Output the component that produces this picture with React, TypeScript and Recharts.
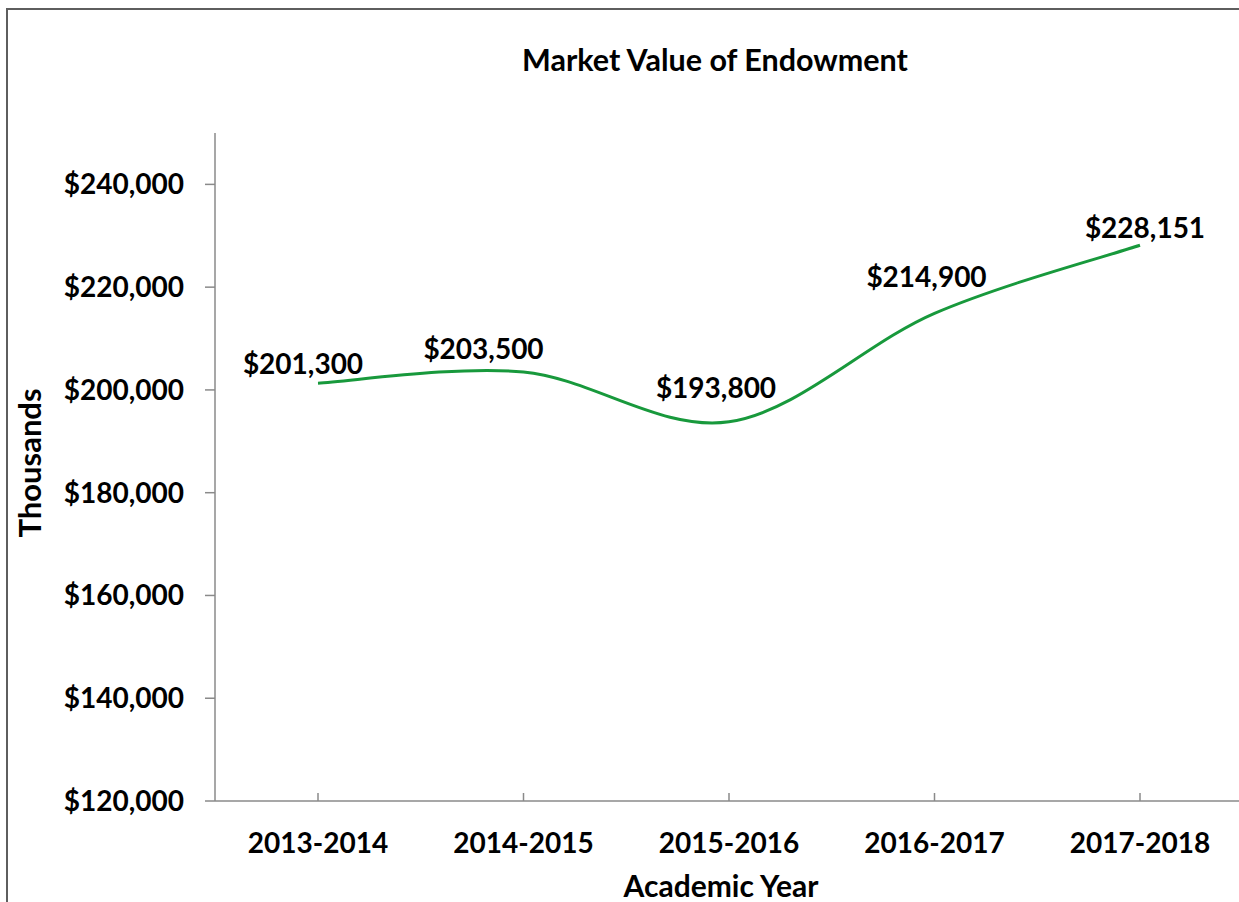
import React from "react";
import { LineChart, Line, XAxis, YAxis, LabelList } from "recharts";

const categories = ["2013-2014", "2014-2015", "2015-2016", "2016-2017", "2017-2018"];
const values = [201300, 203500, 193800, 214900, 228151];
const yTicks = [120000, 140000, 160000, 180000, 200000, 220000, 240000];

const data = categories.map((year, i) => ({ year, value: values[i] }));

// Style: per-label offsets (dx, baseline dy) relative to each point, as placed in the original
const labelOffsets: [number, number][] = [
  [-15, -9],
  [-40, -13],
  [-13, -24],
  [-8, -26],
  [5, -7],
];

const FONT = "Lato, 'Open Sans', 'DejaVu Sans', sans-serif";
const AXIS = "#8a8a8a";
const GREEN = "#18993c";

const fmt = (v: number) => "$" + v.toLocaleString("en-US");

// Excel-like smoothed line (uniform Catmull-Rom as cubic Bezier)
function excelSmooth(context: any) {
  let pts: [number, number][] = [];
  return {
    areaStart() {},
    areaEnd() {},
    lineStart() {
      pts = [];
    },
    lineEnd() {
      const n = pts.length;
      if (!n) return;
      context.moveTo(pts[0][0], pts[0][1]);
      for (let i = 0; i < n - 1; i++) {
        const p0 = pts[Math.max(i - 1, 0)];
        const p1 = pts[i];
        const p2 = pts[i + 1];
        const p3 = pts[Math.min(i + 2, n - 1)];
        context.bezierCurveTo(
          p1[0] + (p2[0] - p0[0]) / 6,
          p1[1] + (p2[1] - p0[1]) / 6,
          p2[0] - (p3[0] - p1[0]) / 6,
          p2[1] - (p3[1] - p1[1]) / 6,
          p2[0],
          p2[1]
        );
      }
    },
    point(x: number, y: number) {
      pts.push([+x, +y]);
    },
  };
}

const XTick = (props: any) => {
  const { x, y, payload } = props;
  return (
    <g>
      <line x1={x} x2={x} y1={y - 8} y2={y} stroke={AXIS} strokeWidth={1.5} />
      <text x={x} y={y + 52} textAnchor="middle" fontFamily={FONT} fontWeight={700} fontSize={28} fill="#000">
        {payload.value}
      </text>
    </g>
  );
};

const DataLabel = (props: any) => {
  const { x, y, value } = props;
  let idx = props.index;
  if (idx === undefined || idx === null) idx = values.indexOf(value);
  const [dx, dy] = labelOffsets[idx] || [0, -10];
  return (
    <text x={x + dx} y={y + dy} textAnchor="middle" fontFamily={FONT} fontWeight={700} fontSize={28} fill="#000">
      {fmt(value)}
    </text>
  );
};

export default function App() {
  return (
    <div
      style={{
        position: "absolute",
        left: 0,
        top: 0,
        width: 1239,
        height: 902,
        overflow: "hidden",
        background: "#fff",
      }}
    >
      <div
        style={{
          position: "absolute",
          left: 6,
          top: 8,
          width: 1400,
          height: 1000,
          borderLeft: "2px solid #5e5e5e",
          borderTop: "2px solid #5e5e5e",
        }}
      />
      <div style={{ position: "absolute", left: 0, top: 0 }}>
        <LineChart width={1250} height={902} data={data} margin={{ top: 133, right: 7, bottom: 41, left: 0 }}>
          <XAxis
            dataKey="year"
            type="category"
            padding={{ left: 103, right: 103 }}
            height={60}
            axisLine={{ stroke: AXIS, strokeWidth: 1.5 }}
            tickLine={false}
            tickSize={0}
            tickMargin={0}
            tick={<XTick />}
            interval={0}
          />
          <YAxis
            width={215}
            domain={[120000, 250000]}
            ticks={yTicks}
            allowDataOverflow
            axisLine={{ stroke: AXIS, strokeWidth: 1.5 }}
            tickLine={{ stroke: AXIS, strokeWidth: 1.5 }}
            tickSize={10}
            tickMargin={21}
            tickFormatter={fmt}
            tick={{ fontFamily: FONT, fontWeight: 700, fontSize: 28, fill: "#000" }}
          />
          <Line
            dataKey="value"
            type={excelSmooth as any}
            stroke={GREEN}
            strokeWidth={3}
            dot={false}
            activeDot={false}
            isAnimationActive={false}
          >
            <LabelList dataKey="value" content={<DataLabel />} />
          </Line>
        </LineChart>
      </div>
      <svg width={1239} height={902} style={{ position: "absolute", left: 0, top: 0, pointerEvents: "none" }}>
        <text x={715} y={71} textAnchor="middle" fontFamily={FONT} fontWeight={700} fontSize={30.5} fill="#000">
          Market Value of Endowment
        </text>
        <text x={721} y={897} textAnchor="middle" fontFamily={FONT} fontWeight={700} fontSize={30} fill="#000">
          Academic Year
        </text>
        <text
          x={0}
          y={0}
          transform="translate(41,463) rotate(-90)"
          textAnchor="middle"
          fontFamily={FONT}
          fontWeight={700}
          fontSize={31}
          fill="#000"
        >
          Thousands
        </text>
      </svg>
    </div>
  );
}
